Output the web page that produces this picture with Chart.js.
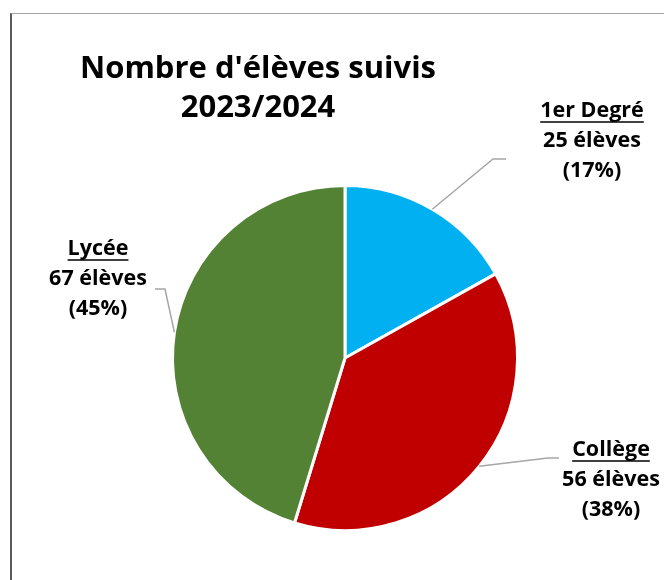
<!DOCTYPE html>
<html>
<head>
<meta charset="utf-8">
<script src="https://cdn.jsdelivr.net/npm/chart.js@4.4.1/dist/chart.umd.min.js"></script>
<style>
  html, body { margin: 0; padding: 0; background: #fff; }
  #wrap { position: relative; width: 664px; height: 580px; }
  #frame { position: absolute; left: 10px; top: 13px; right: -5px; bottom: -5px;
           border-top: 1px solid #a6a6a6; border-left: 2px solid #595959; }
</style>
</head>
<body>
<div id="wrap">
  <canvas id="pie" width="664" height="580"></canvas>
  <div id="frame"></div>
</div>
<script>
// donnees
const categories = ['1er Degré', 'Collège', 'Lycée'];
const eleves = [25, 56, 67];
const couleurs = ['#00B0F0', '#C00000', '#548235'];
const titre = ["Nombre d'élèves suivis", '2023/2024'];

// position des etiquettes (coude du trait, fin du trait, centre du texte, 1re ligne de base)
const etiquettes = [
  { coude: [493, 159], fin: [506, 159], tx: 592, ty: 117 },
  { coude: [548, 458], fin: [559, 458], tx: 611, ty: 456 },
  { coude: [165, 289], fin: [155, 289], tx: 98, ty: 255 }
];

const police = '"Open Sans", "DejaVu Sans", sans-serif';

const labelsPlugin = {
  id: 'labels',
  afterDraw(chart) {
    const ctx = chart.ctx;
    const meta = chart.getDatasetMeta(0);
    const total = eleves.reduce((a, b) => a + b, 0);

    ctx.save();
    // titre
    ctx.fillStyle = '#000';
    ctx.textAlign = 'center';
    ctx.textBaseline = 'alphabetic';
    ctx.font = 'bold 31px ' + police;
    ctx.fillText(titre[0], 258, 78);
    ctx.fillText(titre[1], 258, 117);

    meta.data.forEach((arc, i) => {
      const e = etiquettes[i];
      const mid = (arc.startAngle + arc.endAngle) / 2;
      const px = arc.x + Math.cos(mid) * arc.outerRadius;
      const py = arc.y + Math.sin(mid) * arc.outerRadius;

      // trait de rappel
      ctx.strokeStyle = '#a6a6a6';
      ctx.lineWidth = 1.5;
      ctx.beginPath();
      ctx.moveTo(px, py);
      ctx.lineTo(e.coude[0], e.coude[1]);
      ctx.lineTo(e.fin[0], e.fin[1]);
      ctx.stroke();

      // texte
      const pct = Math.round(eleves[i] / total * 100);
      const lignes = [categories[i], eleves[i] + ' élèves', '(' + pct + '%)'];
      ctx.font = 'bold 21.5px ' + police;
      ctx.fillStyle = '#000';
      ctx.textAlign = 'center';
      lignes.forEach((t, k) => {
        ctx.fillText(t, e.tx, e.ty + k * 30);
      });
      // souligne le nom
      const w = ctx.measureText(lignes[0]).width;
      ctx.strokeStyle = '#000';
      ctx.lineWidth = 1.5;
      ctx.beginPath();
      ctx.moveTo(e.tx - w / 2, e.ty + 5);
      ctx.lineTo(e.tx + w / 2, e.ty + 5);
      ctx.stroke();
    });
    ctx.restore();
  }
};

new Chart(document.getElementById('pie').getContext('2d'), {
  type: 'pie',
  data: {
    labels: categories,
    datasets: [{
      data: eleves,
      backgroundColor: couleurs,
      borderColor: '#ffffff',
      borderWidth: 3
    }]
  },
  options: {
    responsive: false,
    animation: false,
    layout: { padding: { left: 171, right: 145, top: 184, bottom: 48 } },
    plugins: {
      legend: { display: false },
      tooltip: { enabled: false },
      title: { display: false }
    }
  },
  plugins: [labelsPlugin]
});
</script>
</body>
</html>
